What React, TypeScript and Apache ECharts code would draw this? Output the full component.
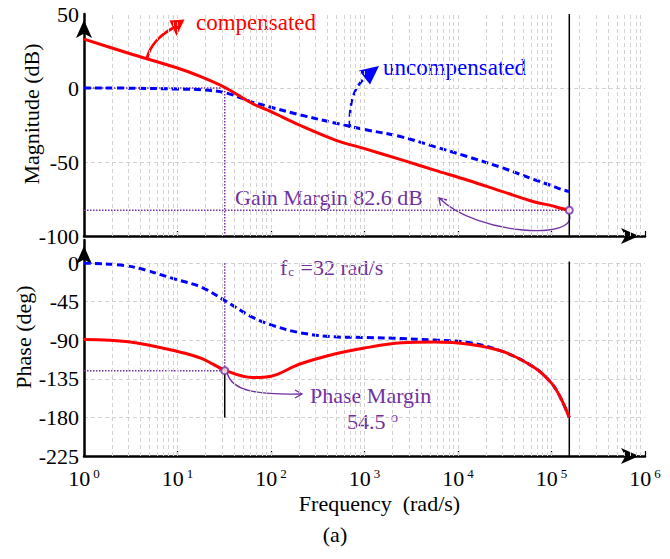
import React, { useEffect, useRef } from "react";
import * as echarts from "echarts";

// ---- data ----
const FREQ = [1, 3, 10, 18, 33, 63, 100, 200, 480, 1000, 2500, 5600, 13000, 30000, 66000, 100000, 125000, 155000];
const MAG_COMP = [33, 23.5, 13.5, 7.5, 0, -10.5, -16, -25, -35, -41, -48.6, -55.5, -62.5, -70, -77, -79.5, -81.3, -82.6];
const MAG_UNCOMP = [0, -0.1, -0.7, -1.2, -3.3, -9.5, -13, -18, -23.6, -28, -33, -39.6, -46.6, -54, -62, -66, -68.3, -70];
const PHASE_COMP = [-89, -91.7, -103, -111, -125.5, -133.5, -132, -118, -106, -99, -93, -92, -94.5, -103, -122, -140, -157, -180];
const PHASE_UNCOMP = [0, -3.5, -19.5, -28, -44.5, -63, -72, -81, -86, -86.7, -88, -89.8, -92.5, -103, -122, -140, -157, -180];

const MAG_MIN = -100;
const MAG_MAX = 50;
const MAG_INTERVAL = 50;
const PHASE_MIN = -225;
const PHASE_TOP = 27;
const PHASE_INTERVAL = 45;
const FREQ_MIN = 1;
const FREQ_MAX = 1000000;
const DECADES = [1, 10, 100, 1000, 10000, 100000];
const MINOR_STEPS = [2, 3, 4, 5, 6, 7, 8, 9];

const CROSSOVER_FREQ = 32;
const GAIN_MARGIN_LEVEL = -82.6;
const PHASE_AT_CROSSOVER = -125.5;
const END_FREQ = 155000;
const PHASE_BOTTOM_MARK = -180;

// ---- styles ----
const SERIF = "Liberation Serif";
const RED = "#ff0000";
const BLUE = "#0000ff";
const PURPLE = "#7030a0";
const GRID_GRAY = "#d2d2d2";

const zip = (xs: number[], ys: number[]) => xs.map((x, i) => [x, ys[i]]);

export default function App() {
  const ref = useRef<HTMLDivElement>(null);

  useEffect(() => {
    if (!ref.current) return;
    const chart = echarts.init(ref.current, undefined, { renderer: "svg" });

    const gridFreqs: number[] = [];
    DECADES.forEach((d) => {
      if (d > FREQ_MIN) gridFreqs.push(d);
      MINOR_STEPS.forEach((m) => gridFreqs.push(d * m));
    });
    const vLines = (lo: number, hi: number) =>
      gridFreqs.map((f) => [{ coord: [f, lo] }, { coord: [f, hi] }]);

    const gridSeries = (idx: number, lo: number, hi: number) => ({
      type: "line",
      xAxisIndex: idx,
      yAxisIndex: idx,
      data: [],
      z: 1,
      silent: true,
      markLine: {
        silent: true,
        symbol: ["none", "none"],
        label: { show: false },
        lineStyle: { color: GRID_GRAY, type: [4, 3], width: 1 },
        data: vLines(lo, hi),
      },
    });

    const guide = (idx: number, data: number[][], color: string, type: any, width = 1.5, z = 3) => ({
      type: "line",
      xAxisIndex: idx,
      yAxisIndex: idx,
      data,
      symbol: "none",
      silent: true,
      z,
      lineStyle: { color, type, width },
    });

    const arrowLine = {
      show: true,
      onZero: false,
      lineStyle: { color: "#000", width: 2.5 },
      symbol: ["none", "arrow"],
      symbolSize: [12, 18],
      symbolOffset: [0, -6],
    };

    const xAxisBase = (idx: number, showLabels: boolean) => ({
      type: "log",
      logBase: 10,
      gridIndex: idx,
      min: FREQ_MIN,
      max: FREQ_MAX,
      axisLine: arrowLine,
      axisTick: { show: true, inside: true, length: 5, lineStyle: { color: "#000", width: 1.2 } },
      splitLine: { show: false },
      axisLabel: showLabels
        ? {
            show: true,
            margin: 11,
            formatter: (v: number) => `{b|10}{s|${Math.round(Math.log10(v))}}`,
            rich: {
              b: { fontSize: 22, lineHeight: 22, fontFamily: SERIF, color: "#000" },
              s: { fontSize: 13, lineHeight: 13, fontFamily: SERIF, color: "#000", verticalAlign: "top", padding: [0, 0, 0, 3] },
            },
          }
        : { show: false },
      ...(showLabels
        ? {
            name: "Frequency  (rad/s)",
            nameLocation: "middle",
            nameGap: 36,
            nameMoveOverlap: false,
            nameTextStyle: { fontSize: 22, lineHeight: 22, fontFamily: SERIF, color: "#000", padding: [0, 0, 0, 30] },
          }
        : {}),
    });

    const yLabel = { fontSize: 22, fontFamily: SERIF, color: "#000", margin: 5 };
    const ySplit = {
      show: true,
      showMinLine: false,
      showMaxLine: false,
      lineStyle: { color: GRID_GRAY, type: [4, 3], width: 1 },
    };

    const option: any = {
      animation: false,
      backgroundColor: "#fff",
      textStyle: { fontFamily: SERIF },
      title: {
        text: "(a)",
        left: "center",
        top: 518,
        textStyle: { fontSize: 22, fontWeight: "normal", fontFamily: SERIF, color: "#000" },
      },
      grid: [
        { left: 84, right: 25, top: 14, height: 222 },
        { left: 84, right: 25, top: 240, height: 216 },
      ],
      xAxis: [xAxisBase(0, false), xAxisBase(1, true)],
      yAxis: [
        {
          type: "value",
          gridIndex: 0,
          min: MAG_MIN,
          max: MAG_MAX,
          interval: MAG_INTERVAL,
          axisLine: arrowLine,
          axisTick: { show: false },
          axisLabel: yLabel,
          splitLine: ySplit,
          name: "Magnitude (dB)",
          nameLocation: "middle",
          nameGap: 42,
          nameMoveOverlap: false,
          nameTextStyle: { fontSize: 22, lineHeight: 22, fontFamily: SERIF, color: "#000", padding: [0, 0, 0, 22] },
        },
        {
          type: "value",
          gridIndex: 1,
          min: PHASE_MIN,
          max: PHASE_TOP,
          interval: PHASE_INTERVAL,
          axisLine: arrowLine,
          axisTick: { show: false },
          axisLabel: {
            ...yLabel,
            showMaxLabel: false,
            formatter: (v: number) => (v > 0 ? "" : String(v)),
          },
          splitLine: ySplit,
          name: "Phase (deg)",
          nameLocation: "middle",
          nameGap: 50,
          nameMoveOverlap: false,
          nameTextStyle: { fontSize: 22, lineHeight: 22, fontFamily: SERIF, color: "#000", padding: [0, 0, 0, 22] },
        },
      ],
      series: [
        gridSeries(0, MAG_MIN, MAG_MAX),
        gridSeries(1, PHASE_MIN, 0),
        // guides (top)
        guide(0, [[FREQ_MIN, 0], [CROSSOVER_FREQ, 0]], PURPLE, "dotted"),
        guide(0, [[CROSSOVER_FREQ, 0], [CROSSOVER_FREQ, MAG_MIN]], PURPLE, "dotted"),
        guide(0, [[FREQ_MIN, GAIN_MARGIN_LEVEL], [END_FREQ, GAIN_MARGIN_LEVEL]], PURPLE, "dotted"),
        guide(0, [[END_FREQ, MAG_MIN], [END_FREQ, MAG_MAX]], "#000", "solid", 1.5, 2),
        // guides (bottom)
        guide(1, [[CROSSOVER_FREQ, 0], [CROSSOVER_FREQ, PHASE_AT_CROSSOVER]], PURPLE, "dotted"),
        guide(1, [[FREQ_MIN, PHASE_AT_CROSSOVER], [CROSSOVER_FREQ, PHASE_AT_CROSSOVER]], PURPLE, "dotted"),
        guide(1, [[CROSSOVER_FREQ, PHASE_AT_CROSSOVER], [CROSSOVER_FREQ, PHASE_BOTTOM_MARK]], "#000", "solid", 1.5),
        guide(1, [[END_FREQ, PHASE_MIN], [END_FREQ, 2]], "#000", "solid", 1.5, 2),
        // curves
        {
          name: "uncompensated",
          type: "line",
          xAxisIndex: 0,
          yAxisIndex: 0,
          data: zip(FREQ, MAG_UNCOMP),
          smooth: 0.35,
          symbol: "none",
          z: 4,
          lineStyle: { color: BLUE, width: 3, type: [7, 4] },
        },
        {
          name: "compensated",
          type: "line",
          xAxisIndex: 0,
          yAxisIndex: 0,
          data: zip(FREQ, MAG_COMP),
          smooth: 0.35,
          symbol: "none",
          z: 5,
          lineStyle: { color: RED, width: 3 },
        },
        {
          name: "uncompensated phase",
          type: "line",
          xAxisIndex: 1,
          yAxisIndex: 1,
          data: zip(FREQ, PHASE_UNCOMP),
          smooth: 0.35,
          symbol: "none",
          z: 4,
          lineStyle: { color: BLUE, width: 3, type: [7, 4] },
        },
        {
          name: "compensated phase",
          type: "line",
          xAxisIndex: 1,
          yAxisIndex: 1,
          data: zip(FREQ, PHASE_COMP),
          smooth: 0.35,
          symbol: "none",
          z: 5,
          lineStyle: { color: RED, width: 3 },
        },
        {
          type: "scatter",
          xAxisIndex: 0,
          yAxisIndex: 0,
          data: [[END_FREQ, GAIN_MARGIN_LEVEL]],
          symbol: "emptyCircle",
          symbolSize: 7,
          z: 6,
          itemStyle: { color: PURPLE, borderColor: PURPLE, borderWidth: 1.5 },
        },
        {
          type: "scatter",
          xAxisIndex: 1,
          yAxisIndex: 1,
          data: [[CROSSOVER_FREQ, PHASE_AT_CROSSOVER]],
          symbol: "emptyCircle",
          symbolSize: 7,
          z: 6,
          itemStyle: { color: PURPLE, borderColor: PURPLE, borderWidth: 1.5 },
        },
      ],
      graphic: [
        // "compensated" label + arrow
        {
          type: "text",
          x: 196,
          y: 22,
          style: { text: "compensated", fill: RED, fontSize: 23, fontFamily: SERIF, textVerticalAlign: "middle", verticalAlign: "middle" },
        },
        {
          type: "bezierCurve",
          shape: { x1: 147, y1: 58, cpx1: 150, cpy1: 46, cpx2: 160, cpy2: 35, x2: 173, y2: 28 },
          style: { stroke: RED, lineWidth: 3, fill: "none" },
        },
        {
          type: "polygon",
          shape: { points: [[169.5, 20.5], [184.5, 19.5], [176.5, 36]] },
          style: { fill: RED },
        },
        // "uncompensated" label + arrow
        {
          type: "text",
          x: 383,
          y: 67,
          style: { text: "uncompensated", fill: BLUE, fontSize: 23, fontFamily: SERIF, textVerticalAlign: "middle", verticalAlign: "middle" },
        },
        {
          type: "bezierCurve",
          shape: { x1: 350, y1: 128, cpx1: 348, cpy1: 92, x2: 365, y2: 78 },
          style: { stroke: BLUE, lineWidth: 2.5, fill: "none", lineDash: [7, 4] },
        },
        {
          type: "polygon",
          shape: { points: [[359, 70.5], [379, 66], [370, 84.5]] },
          style: { fill: BLUE },
        },
        // Gain margin
        {
          type: "text",
          x: 235,
          y: 197,
          style: { text: "Gain Margin 82.6 dB", fill: PURPLE, fontSize: 22, fontFamily: SERIF, textVerticalAlign: "middle", verticalAlign: "middle" },
        },
        {
          type: "bezierCurve",
          shape: { x1: 569, y1: 214, cpx1: 580, cpy1: 240, cpx2: 478, cpy2: 236, x2: 439, y2: 198 },
          style: { stroke: PURPLE, lineWidth: 1.3, fill: "none" },
        },
        {
          type: "polyline",
          shape: { points: [[440.5, 206], [439, 198], [447, 200]] },
          style: { stroke: PURPLE, lineWidth: 1.3, fill: "none" },
        },
        // f_c label
        {
          type: "text",
          x: 280,
          y: 267,
          style: {
            text: "{n|f}{sub|c}{n| =32 rad/s}",
            fill: PURPLE,
            fontFamily: SERIF,
            textVerticalAlign: "middle",
            verticalAlign: "middle",
            rich: {
              n: { fontSize: 22, fontFamily: SERIF, fill: PURPLE, color: PURPLE },
              sub: { fontSize: 13, fontFamily: SERIF, fill: PURPLE, color: PURPLE, verticalAlign: "bottom", padding: [0, 1, 0, 1] },
            },
          },
        },
        // Phase margin
        {
          type: "text",
          x: 310,
          y: 395,
          style: { text: "Phase Margin", fill: PURPLE, fontSize: 22, fontFamily: SERIF, textVerticalAlign: "middle", verticalAlign: "middle" },
        },
        {
          type: "text",
          x: 347,
          y: 421,
          style: {
            text: "{n|54.5 }{sup|o}",
            fill: PURPLE,
            fontFamily: SERIF,
            textVerticalAlign: "middle",
            verticalAlign: "middle",
            rich: {
              n: { fontSize: 22, fontFamily: SERIF, fill: PURPLE, color: PURPLE },
              sup: { fontSize: 14, fontFamily: SERIF, fill: PURPLE, color: PURPLE, verticalAlign: "top" },
            },
          },
        },
        {
          type: "bezierCurve",
          shape: { x1: 227, y1: 372, cpx1: 231, cpy1: 392, cpx2: 260, cpy2: 395, x2: 302, y2: 394 },
          style: { stroke: PURPLE, lineWidth: 1.3, fill: "none" },
        },
        {
          type: "polyline",
          shape: { points: [[295, 390], [302, 394], [295, 398]] },
          style: { stroke: PURPLE, lineWidth: 1.3, fill: "none" },
        },
      ],
    };

    chart.setOption(option);
    return () => chart.dispose();
  }, []);

  return <div ref={ref} style={{ width: 670, height: 559, position: "absolute", left: 0, top: 0 }} />;
}
